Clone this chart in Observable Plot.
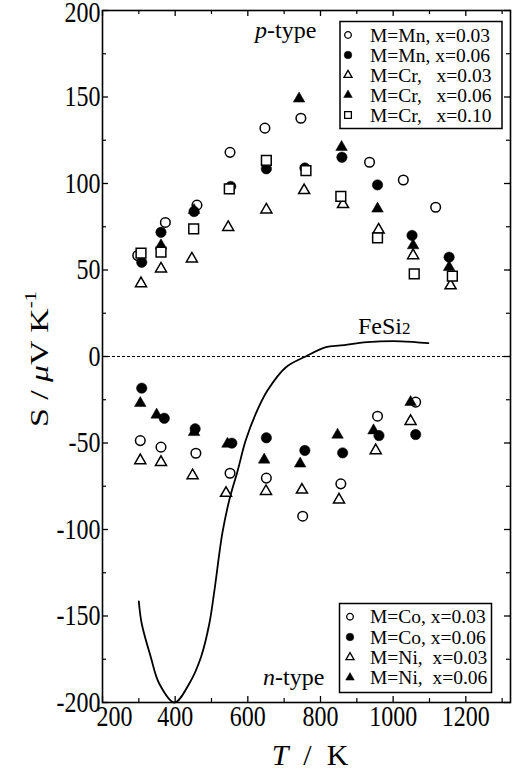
<!DOCTYPE html>
<html><head><meta charset="utf-8">
<script src="https://cdn.jsdelivr.net/npm/d3@7"></script>
<script src="https://cdn.jsdelivr.net/npm/@observablehq/plot@0.6"></script>
<style>
html,body{margin:0;padding:0;background:#fff;}
#chart{width:515px;height:770px;}
#chart svg text, #chart svg tspan{font-family:'Liberation Serif','Times New Roman',serif !important;}
</style>
</head><body><div id="chart"></div>
<script>
// ---------- data (T / K, S / µV K^-1) ----------
const mn003 = [[297,58.4],[373,77.5],[460,87.5],[551,118],[647,132],[746,137.7],[935,112.3],[1028,102],[1117,86.3]];
const mn006 = [[308,54.5],[361,71.8],[452,83.8],[553,98.3],[651,108.5],[757,109],[859,115.2],[957,99.2],[1052,70],[1154,57.4]];
const cr003 = [[306,42.2],[361,50.7],[446,56.5],[546,74.7],[651,84.8],[755,96],[862,87.9],[960,73.2],[1055,58.4],[1158,41]];
const cr006 = [[361,64.2],[452,84.6],[741,149],[858,121],[957,85.4],[1055,64.2],[1154,51.6]];
const cr010 = [[306,59.7],[361,60.3],[451,73.8],[549,96.9],[651,113.3],[760,107.5],[856,92.5],[957,68.6],[1058,47.8],[1163,46.4]];
const co003 = [[304,-48.6],[361,-52.4],[457,-55.9],[551,-67.5],[651,-70.3],[751,-92.3],[856,-73.6],[957,-34.5],[1062,-26.4]];
const co006 = [[308,-18.3],[370,-35.7],[455,-41.8],[556,-50.1],[651,-47],[757,-54.3],[861,-55.7],[961,-45.7],[1062,-45.1]];
const ni003 = [[304,-60.1],[361,-61.1],[448,-68.8],[540,-79],[650,-77.9],[749,-77.1],[851,-82.8],[952,-54.3],[1048,-37.4]];
const ni006 = [[304,-27],[349,-33.7],[452,-43.8],[544,-50.5],[645,-59.7],[744,-62],[847,-45.3],[946,-42.8],[1048,-26.4]];
const fesi2 = [[300,-141.6],[308,-154.5],[333,-173.8],[356,-189],[398,-200],[439,-189],[471,-173.8],[494,-154.5],[508,-135.3],[530,-102],[549,-83],[572,-66],[594,-48.6],[622,-33],[654,-19.7],[705,-6.2],[759,0],[815,5.4],[856,6.4],[929,8.3],[1021,8.8],[1097,7.7]];

const xMajor = [200,400,600,800,1000,1200];
const xMinor = [300,500,700,900,1100,1300];
const yMajor = [-200,-150,-100,-50,0,50,100,150,200];
const yMinor = [-175,-125,-75,-25,25,75,125,175];

const legendP = ["M=Mn, x=0.03","M=Mn, x=0.06","M=Cr,   x=0.03","M=Cr,   x=0.06","M=Cr,   x=0.10"];
const legendN = ["M=Co, x=0.03","M=Co, x=0.06","M=Ni,  x=0.03","M=Ni,  x=0.06"];

// ---------- layout ----------
const W = 515, H = 770, mL = 102, mR = 5, mT = 10, mB = 68;
const pw = W - mL - mR, ph = H - mT - mB;
const serif = "'Liberation Serif', 'Times New Roman', serif";

const openSym = (data, symbol, r) => Plot.dot(data, {x: d => d[0], y: d => d[1], symbol, r, fill: "white", stroke: "black", strokeWidth: 1.5});
const fillSym = (data, symbol, r) => Plot.dot(data, {x: d => d[0], y: d => d[1], symbol, r, fill: "black", stroke: "black", strokeWidth: 0.5});

const chart = Plot.plot({
  width: W, height: H,
  marginLeft: mL, marginRight: mR, marginTop: mT, marginBottom: mB,
  x: {domain: [200, 1323]},
  y: {domain: [-200, 200]},
  style: {fontFamily: serif, fontSize: "24px", background: "white", color: "black", overflow: "visible"},
  marks: [
    Plot.ruleY([0], {strokeDasharray: "3,2", strokeWidth: 1.2}),
    // inward ticks on all four sides
    Plot.tickX(xMajor, {x: d => d, insetTop: ph - 6, strokeWidth: 1.3}),
    Plot.tickX(xMajor, {x: d => d, insetBottom: ph - 6, strokeWidth: 1.3}),
    Plot.tickX(xMinor, {x: d => d, insetTop: ph - 4, strokeWidth: 1.2}),
    Plot.tickX(xMinor, {x: d => d, insetBottom: ph - 4, strokeWidth: 1.2}),
    Plot.tickY(yMajor, {y: d => d, insetRight: pw - 6, strokeWidth: 1.3}),
    Plot.tickY(yMajor, {y: d => d, insetLeft: pw - 6, strokeWidth: 1.3}),
    Plot.tickY(yMinor, {y: d => d, insetRight: pw - 4, strokeWidth: 1.2}),
    Plot.tickY(yMinor, {y: d => d, insetLeft: pw - 4, strokeWidth: 1.2}),
    Plot.axisX({ticks: xMajor, tickSize: 0, tickPadding: 3, tickFormat: d => String(d), label: null, fontSize: 24}),
    Plot.axisY({ticks: yMajor, tickSize: 0, tickPadding: 2, tickFormat: d => String(d), label: null, fontSize: 24}),
    Plot.line(fesi2, {x: d => d[0], y: d => d[1], curve: "catmull-rom", strokeWidth: 1.8}),
    openSym(mn003, "circle", 4.8),
    openSym(co003, "circle", 4.8),
    fillSym(mn006, "circle", 5.2),
    fillSym(co006, "circle", 5.2),
    openSym(cr003, "triangle", 4.1),
    openSym(ni003, "triangle", 4.1),
    fillSym(cr006, "triangle", 4.3),
    fillSym(ni006, "triangle", 4.3),
    openSym(cr010, "square", 5.5),
    Plot.frame({strokeWidth: 1.6})
  ]
});
document.getElementById("chart").appendChild(chart);
chart.setAttribute("font-family", serif);

// serif, vertically stretched tick labels (the figure's lettering is tall); y="..em" stays local
chart.querySelectorAll('g[aria-label="x-axis tick label"], g[aria-label="y-axis tick label"]').forEach(grp => {
  grp.setAttribute("font-family", serif);
  grp.style.fontFamily = serif;
});
chart.querySelectorAll('g[aria-label="x-axis tick label"] text, g[aria-label="y-axis tick label"] text').forEach(el => {
  el.setAttribute("font-family", serif);
  el.style.setProperty("font-family", serif, "important");
  // as in the figure, the corner label "200" sits just right of the corner
  const nudge = (el.closest('g[aria-label="x-axis tick label"]') && el.textContent === "200") ? " translate(12,0)" : "";
  const nudgeTop = (el.closest('g[aria-label="y-axis tick label"]') && el.textContent === "200") ? " translate(0,2)" : "";
  el.setAttribute("transform", (el.getAttribute("transform") || "") + nudge + nudgeTop + " scale(1,1.22)");
});

// ---------- overlay: legends, annotations, axis titles ----------
const svg = d3.select(chart);
const g = svg.append("g").attr("font-family", serif).attr("fill", "black").attr("text-anchor", "start");

function legend(items, shapes, box, rows, symX, textX, fs) {
  g.append("rect").attr("x", box[0]).attr("y", box[1]).attr("width", box[2]).attr("height", box[3])
    .attr("fill", "white").attr("stroke", "black").attr("stroke-width", 1.5);
  items.forEach((label, i) => {
    const [type, filled, r] = shapes[i];
    g.append("path")
      .attr("transform", `translate(${symX},${rows[i]})`)
      .attr("d", d3.symbol().type(type).size(Math.PI * r * r)())
      .attr("fill", filled ? "black" : "white").attr("stroke", "black").attr("stroke-width", filled ? 0.5 : 1.3);
    g.append("text").attr("x", textX).attr("y", rows[i]).attr("dy", "0.34em")
      .attr("font-size", fs).style("white-space", "pre").text(label);
  });
}
legend(legendP,
  [[d3.symbolCircle, false, 3.3], [d3.symbolCircle, true, 3.8], [d3.symbolTriangle, false, 3.0], [d3.symbolTriangle, true, 3.2], [d3.symbolSquare, false, 3.8]],
  [340, 21.5, 162, 107], [35, 55, 75, 95, 115], 348, 370, 19.5);
legend(legendN,
  [[d3.symbolCircle, false, 3.3], [d3.symbolCircle, true, 3.8], [d3.symbolTriangle, false, 3.0], [d3.symbolTriangle, true, 3.2]],
  [339.5, 603.5, 152, 89], [616.7, 637, 657.3, 677.6], 350, 370, 19.5);

// annotations
const pt = g.append("text").attr("x", 255).attr("y", 38).attr("font-size", 24);
pt.append("tspan").attr("font-style", "italic").text("p");
pt.append("tspan").text("-type");
const nt = g.append("text").attr("x", 263).attr("y", 685).attr("font-size", 24);
nt.append("tspan").attr("font-style", "italic").text("n");
nt.append("tspan").text("-type");
const fe = g.append("text").attr("x", 358).attr("y", 334).attr("font-size", 24);
fe.append("tspan").text("FeSi");
fe.append("tspan").attr("font-size", 17).text("2");

// axis titles
const yt = g.append("text").attr("transform", "translate(48,359) rotate(-90) scale(1.3,1)")
  .attr("text-anchor", "middle").attr("font-size", 26).style("white-space", "pre");
yt.append("tspan").text("S / ");
yt.append("tspan").attr("font-style", "italic").text("\u03bc");
yt.append("tspan").text("V K");
yt.append("tspan").attr("font-size", 16).attr("dy", "-0.75em").text("-1");
const xt = g.append("text").attr("x", 310).attr("y", 765).attr("text-anchor", "middle")
  .attr("font-size", 30).style("white-space", "pre");
xt.append("tspan").attr("font-style", "italic").text("T");
xt.append("tspan").text("  /  K");
</script></body></html>
